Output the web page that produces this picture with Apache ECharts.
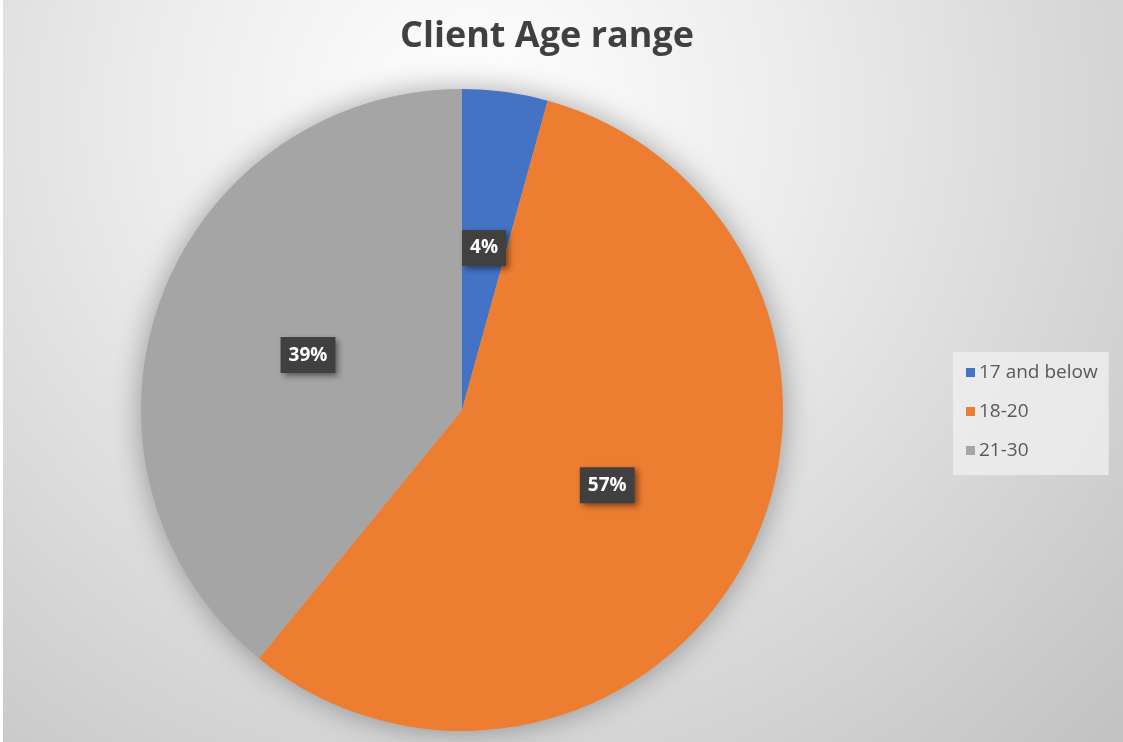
<!DOCTYPE html>
<html>
<head>
<meta charset="utf-8">
<script src="https://cdn.jsdelivr.net/npm/echarts@6/dist/echarts.min.js"></script>
<style>
    html, body { margin: 0; padding: 0; background: #ffffff; }
    #chart { position: absolute; left: 3px; top: 0; width: 1120px; height: 742px; }
</style>
</head>
<body>
<div id="chart"></div>
<script>
// data
var ageGroups = ['17 and below', '18-20', '21-30'];
var sharePct = [4.3, 56.6, 39.1];
var sliceColors = ['#4472C4', '#ED7D31', '#A5A5A5'];

var chart = echarts.init(document.getElementById('chart'));

var pieData = ageGroups.map(function (name, i) {
    return { name: name, value: sharePct[i], itemStyle: { color: sliceColors[i] } };
});
var total = sharePct.reduce(function (a, b) { return a + b; }, 0);

var option = {
    backgroundColor: {
        type: 'radial', x: 0.42, y: 0.15, r: 1.25,
        colorStops: [
            { offset: 0, color: '#ffffff' },
            { offset: 0.35, color: '#ececec' },
            { offset: 1, color: '#c0c0c0' }
        ]
    },
    animation: false,
    title: {
        text: 'Client Age range',
        left: 539,
        top: 14,
        textAlign: 'center',
        textStyle: { fontFamily: 'Open Sans', fontWeight: 'bold', fontSize: 36, color: '#404040' }
    },
    legend: {
        orient: 'vertical',
        left: 950,
        top: 352,
        data: ageGroups,
        icon: 'rect',
        itemWidth: 9,
        itemHeight: 9,
        itemGap: 20,
        padding: [11, 11, 15, 13],
        backgroundColor: 'rgba(240,240,240,0.75)',
        textStyle: { fontFamily: 'Open Sans', fontSize: 19, color: '#595959', padding: [0, 0, 0, -1] }
    },
    series: [
        {
            // soft halo behind the pie
            type: 'pie',
            silent: true,
            center: [459, 410],
            radius: 321,
            z: 1,
            label: { show: false },
            labelLine: { show: false },
            itemStyle: { color: '#bdbdbd', shadowBlur: 30, shadowColor: 'rgba(0,0,0,0.35)' },
            data: [{ name: '', value: total }]
        },
        {
            type: 'pie',
            center: [459, 410],
            radius: 321,
            z: 2,
            startAngle: 90,
            clockwise: true,
            avoidLabelOverlap: false,
            itemStyle: { borderWidth: 0 },
            label: {
                show: true,
                position: 'inside',
                formatter: function (p) { return Math.round(p.value / total * 100) + '%'; },
                fontFamily: 'Open Sans',
                fontWeight: 'bold',
                fontSize: 19,
                color: '#ffffff',
                backgroundColor: '#404040',
                padding: [10, 8, 7, 8],
                shadowBlur: 6,
                shadowOffsetX: 3,
                shadowOffsetY: 3,
                shadowColor: 'rgba(0,0,0,0.45)'
            },
            labelLine: { show: false },
            data: pieData
        }
    ]
};
chart.setOption(option);
</script>
</body>
</html>
